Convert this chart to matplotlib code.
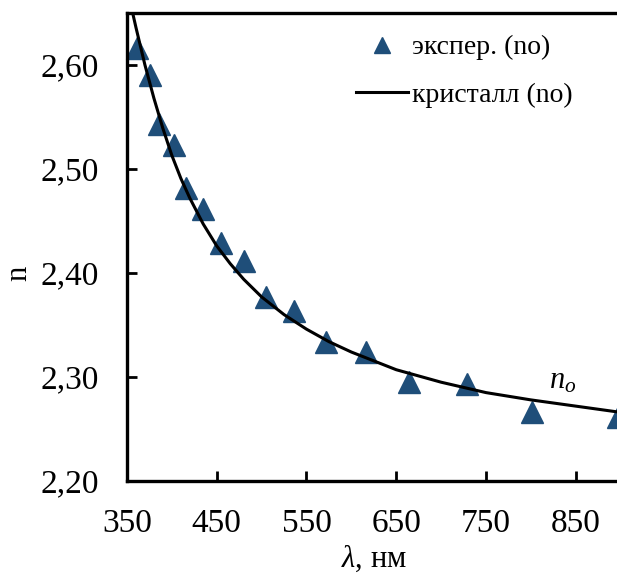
import matplotlib
matplotlib.use("Agg")
import matplotlib.pyplot as plt
from matplotlib.lines import Line2D

# experimental points (no)
exp_wl = [361, 376, 386, 402, 416, 435, 455, 480, 505, 536, 572, 616, 664, 729, 801, 897]
exp_n = [2.616, 2.590, 2.543, 2.523, 2.482, 2.462, 2.429, 2.412, 2.377, 2.363, 2.334, 2.324,
         2.295, 2.293, 2.266, 2.262]

# crystal curve (no)
cur_wl = [355, 360, 365, 370, 375, 380, 390, 400, 410, 420, 435, 450, 465, 480, 500, 525,
          550, 575, 600, 650, 700, 750, 800, 850, 900]
cur_n = [2.655, 2.636, 2.618, 2.600, 2.584, 2.568, 2.539, 2.513, 2.491, 2.472, 2.447, 2.426,
         2.409, 2.394, 2.377, 2.360, 2.346, 2.334, 2.324, 2.307, 2.295, 2.285, 2.278, 2.272, 2.266]

xticks = [350, 450, 550, 650, 750, 850]
yticks = [2.20, 2.30, 2.40, 2.50, 2.60]
ytick_labels = ["2,20", "2,30", "2,40", "2,50", "2,60"]

plt.rcParams['font.family'] = ['Liberation Serif', 'DejaVu Serif']
plt.rcParams['mathtext.fontset'] = 'custom'
plt.rcParams['mathtext.rm'] = 'Liberation Serif'
plt.rcParams['mathtext.it'] = 'Liberation Serif:italic'

W, H = 617, 578
fig = plt.figure(figsize=(W / 100, H / 100), dpi=100)
ax = fig.add_axes([127 / W, 1 - 481 / H, (620.6 - 127) / W, (481 - 13) / H])

mcol = '#1F4E79'
ax.plot(cur_wl, cur_n, color='black', lw=2.2, zorder=3, clip_on=True)
ax.plot(exp_wl, exp_n, linestyle='none', marker='^', ms=15.5, color=mcol, mec=mcol,
        zorder=2, clip_on=False)

ax.set_xlim(350, 900)
ax.set_ylim(2.20, 2.65)
ax.set_xticks(xticks)
ax.set_xticklabels([str(v) for v in xticks])
ax.set_yticks(yticks)
ax.set_yticklabels(ytick_labels)
ax.tick_params(direction='in', length=7, width=2, labelsize=24, pad=20)

for side in ['left', 'bottom', 'top', 'right']:
    ax.spines[side].set_linewidth(2.4)

ax.set_xlabel(r'$\lambda$, нм', fontsize=22, labelpad=3)
ax.set_ylabel('n', fontsize=22)
ax.yaxis.set_label_coords(-0.19, 0.444)

ax.text(820, 2.289, r'$n_o$', fontsize=22, ha='left', va='baseline')

handles = [Line2D([], [], linestyle='none', marker='^', ms=12, color=mcol, mec=mcol),
           Line2D([], [], color='black', lw=2.2)]
fig.legend(handles, ['экспер. (no)', 'кристалл (no)'], loc='upper left',
           bbox_to_anchor=(356 / W, 1 - 35 / H), frameon=False, fontsize=20,
           handlelength=1.87, handletextpad=0.14, labelspacing=0.78, borderpad=0,
           borderaxespad=0)

fig.savefig('out.png', dpi=100)
